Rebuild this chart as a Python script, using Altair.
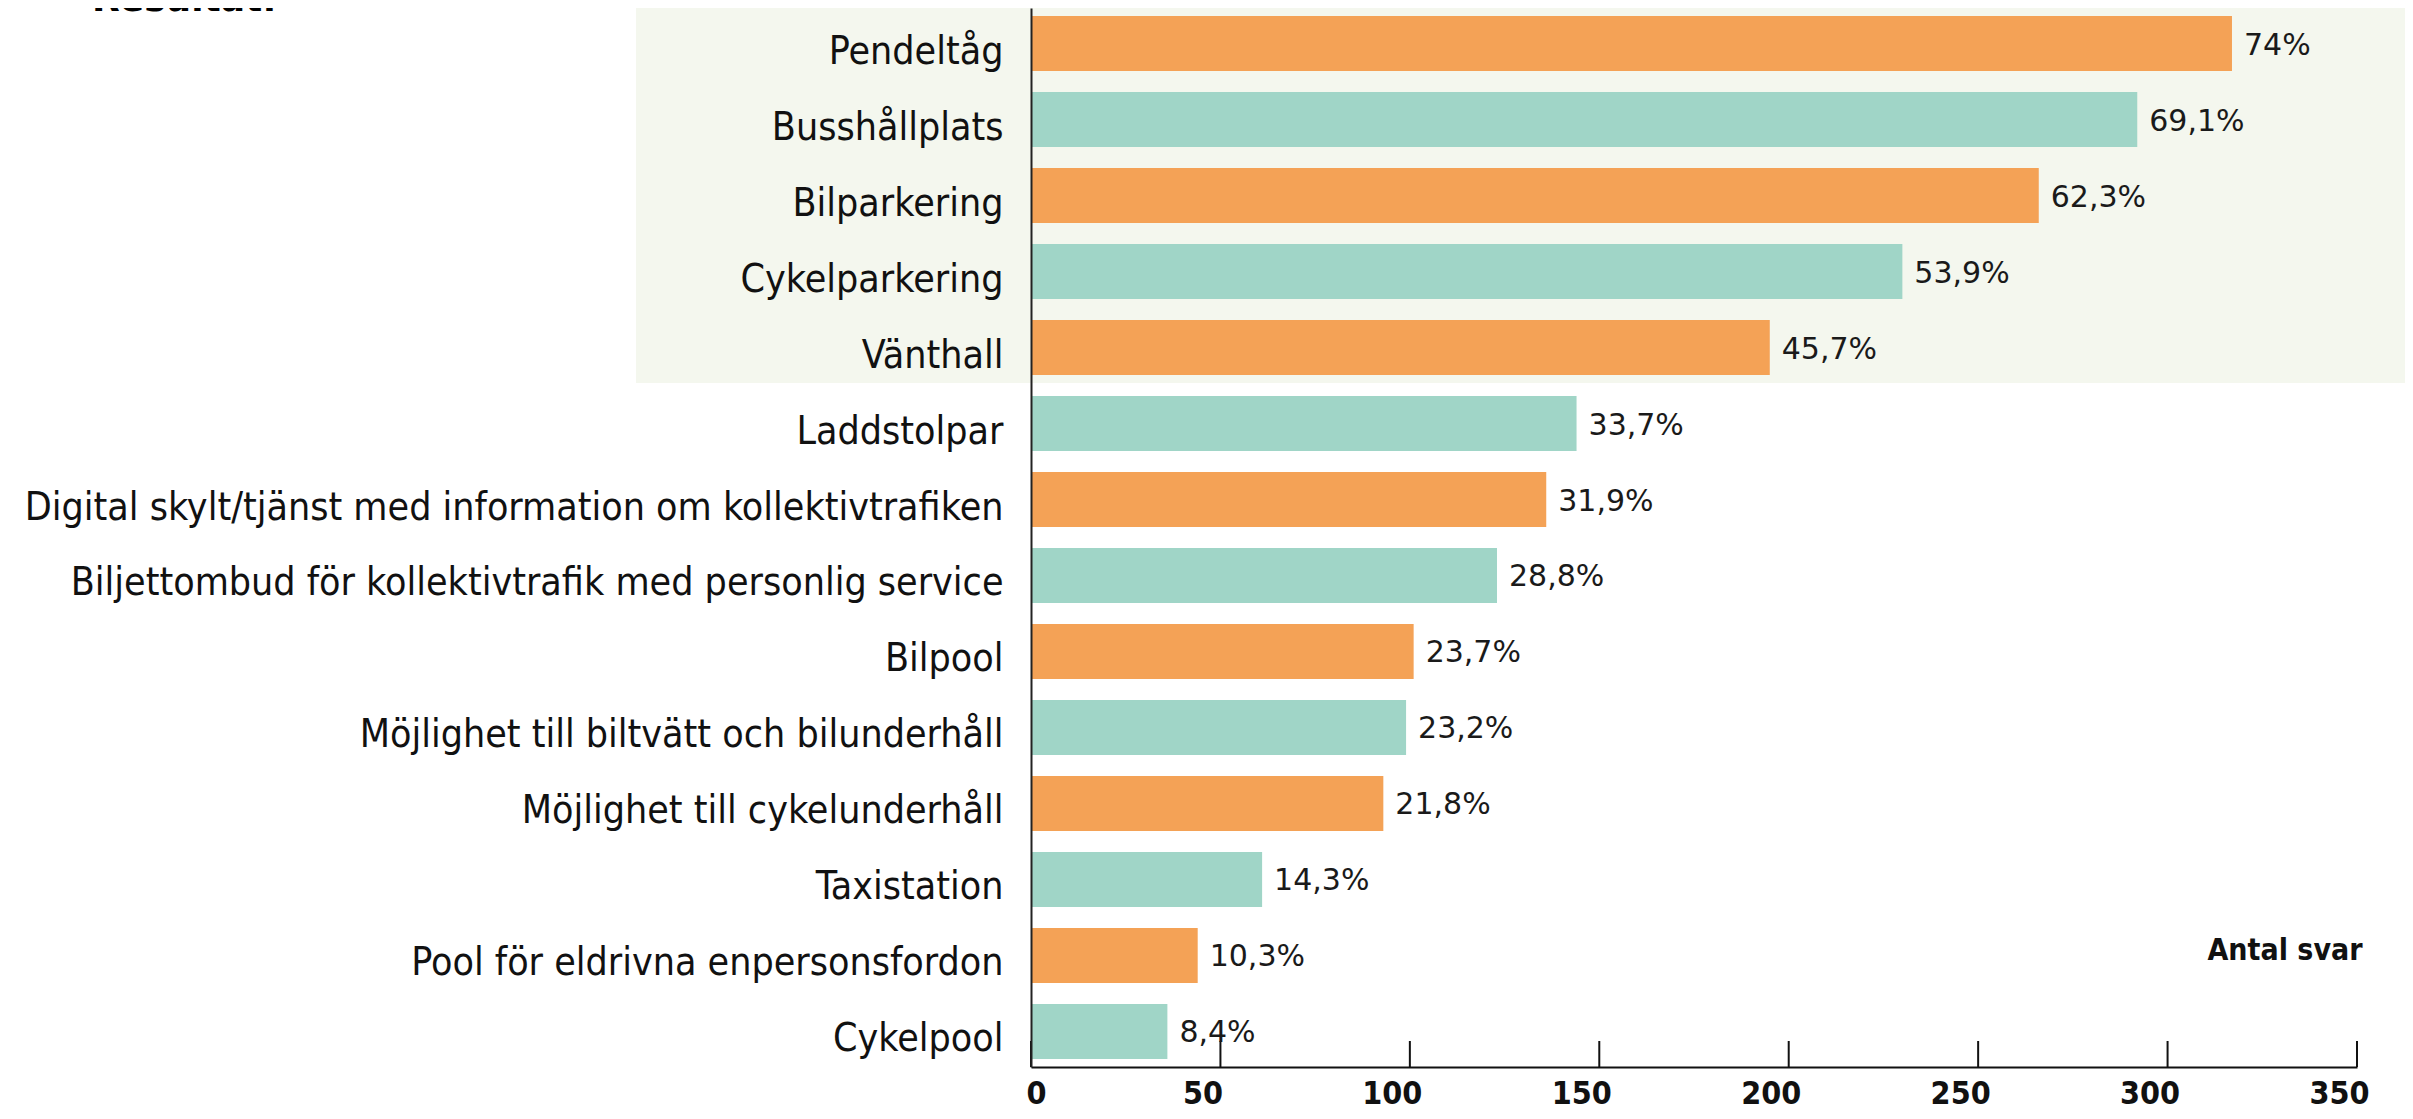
import altair as alt
import pandas as pd

categories = [
    "Pendeltåg",
    "Busshållplats",
    "Bilparkering",
    "Cykelparkering",
    "Vänthall",
    "Laddstolpar",
    "Digital skylt/tjänst med information om kollektivtrafiken",
    "Biljettombud för kollektivtrafik med personlig service",
    "Bilpool",
    "Möjlighet till biltvätt och bilunderhåll",
    "Möjlighet till cykelunderhåll",
    "Taxistation",
    "Pool för eldrivna enpersonsfordon",
    "Cykelpool",
]
counts = [317, 292, 266, 230, 195, 144, 136, 123, 101, 99, 93, 61, 44, 36]
pct_labels = ["74%", "69,1%", "62,3%", "53,9%", "45,7%", "33,7%", "31,9%",
              "28,8%", "23,7%", "23,2%", "21,8%", "14,3%", "10,3%", "8,4%"]
x_ticks = [0, 50, 100, 150, 200, 250, 300, 350]
heading = ["Resultat:"]

ORANGE = "#F4A256"
TEAL = "#A0D5C7"
BG = "#F4F7EE"
INK = "#111111"

W, H = 1326, 1059
PAD = {"left": 1023, "top": 0, "right": 48, "bottom": 44}

df = pd.DataFrame({
    "cat": categories,
    "n": counts,
    "pct": pct_labels,
    "grp": [i % 2 for i in range(len(categories))],
})

x_scale = alt.Scale(domain=[0, 350], nice=False, zero=True)
y_scale = alt.Scale(paddingInner=0.2763, paddingOuter=0.1053)

x_axis = alt.Axis(
    values=x_ticks, ticks=False, tickSize=0, grid=False,
    domainColor=INK, domainWidth=2,
    labelFont="DejaVu Sans Condensed", labelFontSize=32, labelFontWeight="bold",
    labelColor=INK, labelPadding=11, labelFlush=False, labelOverlap=False,
    labelOffset={"condition": {"test": "datum.value == 0", "value": 5}, "value": -18},
    title="Antal svar", titleX=1331, titleY=-117, titleAlign="right",
    titleBaseline="middle", titleFont="DejaVu Sans Condensed", titleFontSize=30,
    titleFontWeight="bold", titleColor=INK, zindex=1,
)
y_axis = alt.Axis(
    title=None, ticks=False, tickSize=0, domainColor="#222222", domainWidth=2,
    labelFont="DejaVu Sans Condensed", labelFontSize=39, labelColor=INK,
    labelPadding=28, labelLimit=1100, labelOffset=8, zindex=1,
)

bg = alt.Chart(pd.DataFrame({"k": [0]})).mark_rect(color=BG).encode(
    x=alt.value(-395), x2=alt.value(W + PAD["right"]),
    y=alt.value(-10), y2=alt.value(375),
)

bars = alt.Chart(df).mark_bar().encode(
    x=alt.X("n:Q", scale=x_scale, axis=x_axis),
    y=alt.Y("cat:N", sort=categories, scale=y_scale, axis=y_axis),
    color=alt.Color("grp:N", scale=alt.Scale(domain=[0, 1], range=[ORANGE, TEAL]), legend=None),
)

labels = alt.Chart(df).mark_text(
    align="left", baseline="middle", dx=12, dy=2, font="DejaVu Sans", fontSize=30, color="#1a1a1a"
).encode(
    x=alt.X("n:Q"),
    y=alt.Y("cat:N", sort=categories),
    text="pct:N",
)

ticks = alt.Chart(pd.DataFrame({"t": x_ticks})).mark_rule(color=INK, strokeWidth=2).encode(
    x=alt.X("t:Q"),
    y=alt.value(H - 26),
    y2=alt.value(H),
)

title_txt = alt.Chart(pd.DataFrame({"t": heading})).mark_text(
    align="left", baseline="alphabetic", font="DejaVu Sans", fontSize=36,
    fontWeight="bold", color="#000000"
).encode(x=alt.value(-939), y=alt.value(3), text="t:N")

chart = alt.layer(bg, bars, ticks, labels, title_txt).properties(
    width=W, height=H,
    autosize=alt.AutoSizeParams(type="none"),
    padding=PAD,
).configure(background="white").configure_view(stroke=None)

chart.save("out.html", embed_options={"renderer": "svg", "actions": False})
